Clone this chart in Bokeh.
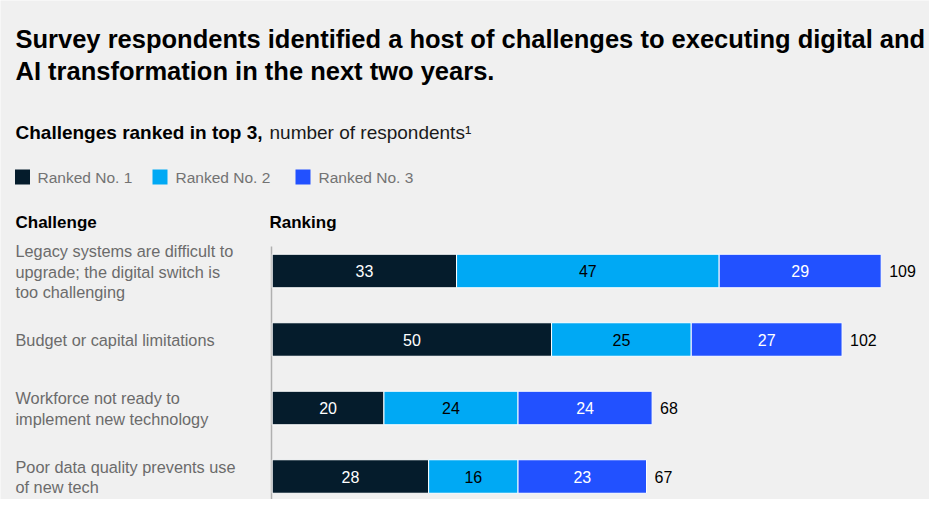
from bokeh.plotting import figure
from bokeh.models import Range1d, ColumnDataSource
from bokeh.core.properties import value
from bokeh.embed import file_html
from bokeh.resources import INLINE

# ---------------- data ----------------
title_lines = [
    "Survey respondents identified a host of challenges to executing digital and",
    "AI  transformation in the next two years.",
]
subtitle_bold = "Challenges ranked in top 3,"
subtitle_rest = "number of respondents\u00b9"
series_names = ["Ranked No. 1", "Ranked No. 2", "Ranked No. 3"]
header_left = "Challenge"
header_right = "Ranking"
challenges = [
    "Legacy systems are difficult to\nupgrade; the digital switch is\ntoo challenging",
    "Budget or capital limitations",
    "Workforce not ready to\nimplement new technology",
    "Poor data quality prevents use\nof new tech",
]
rank1 = [33, 50, 20, 28]
rank2 = [47, 25, 24, 16]
rank3 = [29, 27, 24, 23]

# ---------------- style ----------------
colors = ["#051c2c", "#00a9f4", "#2251ff"]
value_text_colors = ["#ffffff", "#000000", "#ffffff"]
BG = "#f0f0f0"
FONT = "Liberation Sans"
W, H = 929, 499
PX_PER_UNIT = 5.587
X0 = 271.7
ROW0 = 270.5
ROW_STEP = 68.5


def dx(sx):
    return (sx - X0) / PX_PER_UNIT


def dy(sy):
    return (sy - ROW0) / ROW_STEP


p = figure(
    width=W, height=H, output_backend="svg", toolbar_location=None,
    x_range=Range1d(dx(0), dx(W)),
    y_range=Range1d(dy(H), dy(0)),
    x_axis_location=None, y_axis_location=None,
    min_border=0, outline_line_color=None,
    background_fill_color=BG, border_fill_color=BG,
)
p.grid.visible = False


def label(text, sx, sy, size, bold=False, color="#000000", align="left"):
    p.text(x=[dx(sx)], y=[dy(sy)], text=[text], text_font=value(FONT),
           text_font_size=size, text_font_style="bold" if bold else "normal",
           text_color=color, text_align=align, text_baseline="middle")


# title
label(title_lines[0], 15, 38.5, "25.5px", bold=True)
label(title_lines[1], 15, 70, "25.5px", bold=True)
# subtitle
label(subtitle_bold, 15, 132, "19px", bold=True)
label(subtitle_rest, 269, 132, "19px", color="#1a1a1a")

# legend
legend_sq_x = [22, 159.5, 302.5]
legend_lbl_x = [37, 175, 318]
for i, name in enumerate(series_names):
    p.rect(x=[dx(legend_sq_x[i])], y=[dy(176.5)], width=15, height=15,
           width_units="screen", height_units="screen",
           fill_color=colors[i], line_color=None)
    label(name, legend_lbl_x[i], 176.5, "15.5px", color="#737373")

# headers
label(header_left, 15, 222, "17px", bold=True)
label(header_right, 269, 222, "17px", bold=True)

# axis line
p.segment(x0=[dx(271)], y0=[dy(246)], x1=[dx(271)], y1=[dy(H + 2)],
          line_color="#b0b0b0", line_width=1.5)

# bars
rows = list(range(len(challenges)))
series = [rank1, rank2, rank3]
left = [0] * len(rows)
BAR_H = 33.5 / ROW_STEP
for s_i, vals in enumerate(series):
    right = [l + v for l, v in zip(left, vals)]
    src = ColumnDataSource(dict(
        row=rows, left=left, right=right,
        mid=[(l + r) / 2 for l, r in zip(left, right)],
        txt=[str(v) for v in vals],
    ))
    p.hbar(y="row", left="left", right="right", height=BAR_H, source=src,
           fill_color=colors[s_i], line_color="#ffffff", line_width=1)
    p.text(x="mid", y="row", text="txt", source=src, text_align="center",
           text_baseline="middle", text_font=value(FONT), text_font_size="16px",
           text_color=value_text_colors[s_i])
    left = right

totals = [a + b + c for a, b, c in zip(rank1, rank2, rank3)]
tsrc = ColumnDataSource(dict(row=rows, x=totals, txt=[str(t) for t in totals]))
p.text(x="x", y="row", text="txt", source=tsrc, x_offset=8, text_align="left",
       text_baseline="middle", text_font=value(FONT), text_font_size="16px",
       text_color="#000000")

# category labels
LINE_STEP = 20.3 / ROW_STEP
lx, ly, lt = [], [], []
for i, c in enumerate(challenges):
    lines = c.split("\n")
    n = len(lines)
    for k, ln in enumerate(lines):
        lx.append(dx(15))
        ly.append(i + (k - (n - 1) / 2) * LINE_STEP + 0.5 / ROW_STEP)
        lt.append(ln)
p.text(x=lx, y=ly, text=lt, text_align="left", text_baseline="middle",
       text_font=value(FONT), text_font_size="16.3px", text_color="#6b6b6b")

open("out.html", "w").write(file_html(p, INLINE))
